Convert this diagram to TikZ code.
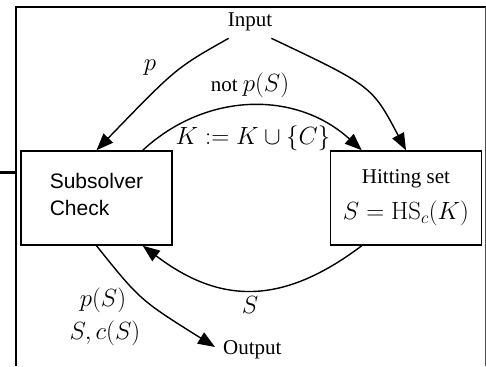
\documentclass[tikz,border=0pt]{standalone}
\usepackage[no-math]{fontspec}
\setmainfont{Liberation Serif}
\newfontfamily\helv{Liberation Sans}
\usetikzlibrary{arrows.meta}
\begin{document}
\begin{tikzpicture}[x=1pt,y=-1pt,
 txt/.style={font=\fontsize{21}{25}\selectfont, inner sep=0pt},
 mth/.style={font=\fontsize{23.5}{28}\selectfont, inner sep=0pt},
 boxnode/.style={draw, line width=1.5pt, minimum width=151pt, minimum height=94pt, inner sep=0pt},
 conn/.style={line width=1.4pt, -{Triangle[length=17pt,width=13pt]}},
]
\useasboundingbox (0,0) rectangle (486,366);
% frame
\draw[line width=2pt] (16,366) -- (16,7.5) -- (486,7.5);
\draw[line width=1pt, black!70] (485,7.5) -- (485,366);
\draw[line width=3pt] (0,172.5) -- (16,172.5);
% nodes
\node[txt] (in) at (250,22) {Input};
\node[txt, anchor=west] (out) at (223,350) {Output};
\node[boxnode, font=\helv\fontsize{21}{27}\selectfont, align=left, text depth=8pt] (sub) at (96.5,198) {Subsolver\\Check};
\node[boxnode, font=\fontsize{21}{25}\selectfont, align=center] (hit) at (406,198) {Hitting set\\[11pt]{\fontsize{23.5}{28}\selectfont$S=\mathrm{HS}_c(K)$}};
% connectors
\draw[conn] ([shift={(1,7)}]in.south west) .. controls (176,68) .. (sub.north);
\draw[conn] ([shift={(-1,7)}]in.south east) .. controls (372,86) .. (hit.north);
\draw[conn] ([xshift=-30pt]sub.north east) .. controls (207,91) and (297,91) .. ([xshift=32pt]hit.north west);
\draw[conn] ([xshift=32pt]hit.south west) .. controls (283,305) and (221,305) .. ([xshift=-30pt]sub.south east);
\draw[conn] (sub.south) .. controls (140,300) .. ([shift={(-8,-3)}]out.west);
% labels
\node[mth] (lp) at (150,68) {$p$};
\node[txt] (lnot) at (250,85) {not {\fontsize{23.5}{28}\selectfont$p(S)$}};
\node[mth] (lK) at (253,138) {$K:=K\cup\{C\}$};
\node[mth] (lS) at (250,305) {$S$};
\node[mth] (lpS) at (103,300) {$p(S)$};
\node[mth] (lSc) at (105,333) {$S,c(S)$};
\end{tikzpicture}
\end{document}
